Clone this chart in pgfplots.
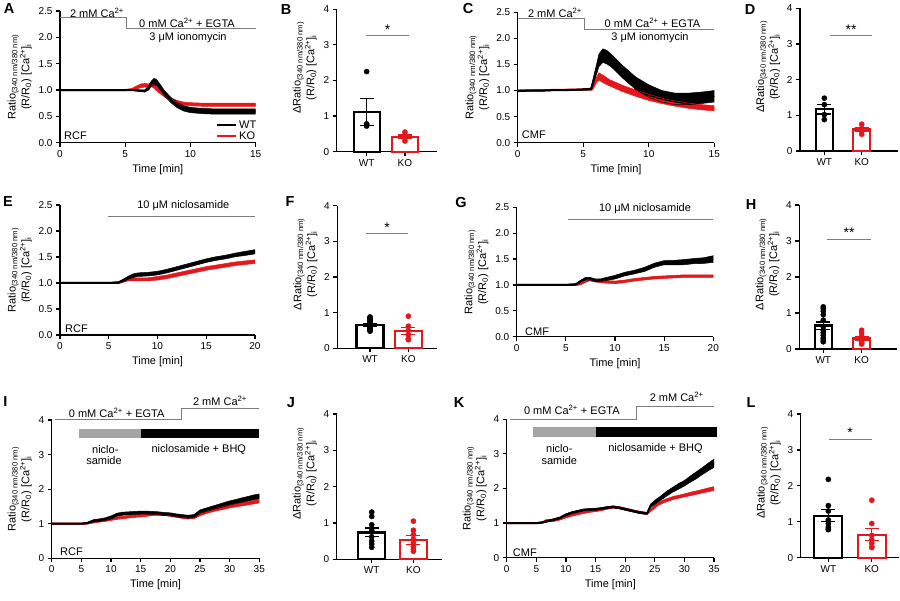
\documentclass[border=0pt]{standalone}
\usepackage{fontspec}
\setmainfont{Liberation Sans}
\usepackage{pgfplots}
\pgfplotsset{compat=1.18}
\usepgfplotslibrary{fillbetween}
\usepackage{pgfplotstable}

\definecolor{kored}{RGB}{228,24,28}
\definecolor{stimgray}{RGB}{125,125,125}
\definecolor{drugbar}{RGB}{165,165,165}

% ---------- traces: time [min], mean ratio, SEM ----------
\pgfplotstableread{
t m s
0 1.00 0.01
1 1.00 0.01
2 1.00 0.01
3 1.00 0.01
4 1.00 0.01
5 1.00 0.01
5.5 1.00 0.01
6.0 0.99 0.015
6.5 0.98 0.02
6.8 1.04 0.04
7.0 1.12 0.05
7.2 1.16 0.06
7.4 1.14 0.06
7.7 1.05 0.05
8.0 0.94 0.05
8.5 0.81 0.05
9.0 0.71 0.05
9.5 0.65 0.05
10 0.62 0.05
11 0.60 0.05
12 0.59 0.05
13 0.59 0.05
14 0.59 0.05
15 0.59 0.05
}\aWT
\pgfplotstableread{
t m s
0 1.00 0.01
5 1.00 0.01
5.5 1.01 0.015
5.8 1.04 0.03
6.2 1.08 0.035
6.5 1.09 0.035
6.8 1.08 0.035
7.0 1.10 0.035
7.2 1.07 0.035
7.5 1.00 0.035
8.0 0.90 0.03
8.5 0.82 0.03
9.0 0.77 0.03
9.5 0.74 0.03
10 0.73 0.03
11 0.72 0.03
12 0.72 0.03
13 0.72 0.03
14 0.72 0.03
15 0.72 0.03
}\aKO
\pgfplotstableread{
t m s
0 0.99 0.01
1 1.00 0.01
2 1.00 0.01
3 1.01 0.01
4 1.01 0.01
5 1.02 0.01
5.6 1.03 0.02
5.9 1.30 0.08
6.2 1.58 0.12
6.5 1.67 0.13
6.8 1.64 0.13
7.2 1.56 0.12
8 1.36 0.12
9 1.14 0.12
10 0.99 0.12
11 0.89 0.11
12 0.84 0.11
13 0.84 0.11
14 0.86 0.11
15 0.89 0.11
}\cWT
\pgfplotstableread{
t m s
0 1.00 0.01
5 1.02 0.01
5.7 1.03 0.02
6.0 1.20 0.05
6.2 1.27 0.07
6.6 1.21 0.07
7 1.15 0.06
8 1.04 0.06
9 0.95 0.06
10 0.87 0.06
11 0.80 0.05
12 0.75 0.05
13 0.71 0.05
14 0.68 0.05
15 0.66 0.05
}\cKO
\pgfplotstableread{
t m s
0 1.00 0.01
5 1.00 0.01
6 1.01 0.015
6.5 1.05 0.025
7 1.10 0.03
7.5 1.14 0.035
8 1.16 0.035
9 1.17 0.035
10 1.19 0.035
11 1.23 0.035
12 1.28 0.035
13 1.33 0.035
14 1.38 0.035
15 1.43 0.035
16 1.47 0.035
17 1.50 0.035
18 1.54 0.035
19 1.57 0.04
20 1.60 0.04
}\eWT
\pgfplotstableread{
t m s
0 1.00 0.01
5 1.00 0.01
6 1.00 0.015
6.5 1.04 0.025
7 1.07 0.03
8 1.07 0.03
9 1.07 0.03
10 1.09 0.035
11 1.12 0.035
12 1.16 0.035
13 1.20 0.035
14 1.24 0.035
15 1.28 0.035
16 1.31 0.035
17 1.34 0.035
18 1.37 0.035
19 1.39 0.035
20 1.41 0.035
}\eKO
\pgfplotstableread{
t m s
0 1.00 0.01
5 1.00 0.01
6 1.01 0.015
6.5 1.07 0.02
7 1.12 0.025
7.5 1.12 0.025
8 1.09 0.025
8.5 1.09 0.025
9 1.11 0.03
10 1.15 0.035
11 1.21 0.035
12 1.25 0.035
13 1.30 0.04
14 1.38 0.04
15 1.43 0.04
16 1.43 0.045
17 1.44 0.05
18 1.46 0.05
19 1.47 0.055
20 1.50 0.065
}\gWT
\pgfplotstableread{
t m s
0 1.00 0.01
6 1.00 0.01
6.5 1.02 0.015
7 1.07 0.02
7.4 1.10 0.02
8 1.08 0.025
9 1.06 0.025
10 1.05 0.025
11 1.07 0.025
12 1.10 0.025
13 1.12 0.025
14 1.14 0.025
15 1.15 0.025
16 1.16 0.025
17 1.17 0.025
18 1.17 0.025
19 1.17 0.025
20 1.17 0.025
}\gKO
\pgfplotstableread{
t m s
0 1.00 0.01
5 1.00 0.01
6 1.02 0.02
7 1.08 0.035
8 1.10 0.04
9 1.13 0.04
10 1.18 0.045
11 1.26 0.045
12 1.29 0.045
13 1.30 0.045
14 1.31 0.045
15 1.32 0.045
16 1.32 0.045
17 1.31 0.045
18 1.30 0.045
19 1.28 0.045
20 1.27 0.045
21 1.24 0.045
22 1.22 0.045
23 1.20 0.045
24 1.22 0.045
24.5 1.28 0.05
25 1.35 0.05
26 1.40 0.05
27 1.45 0.055
28 1.50 0.055
29 1.55 0.06
30 1.60 0.06
31 1.64 0.06
32 1.68 0.065
33 1.72 0.065
34 1.76 0.07
35 1.79 0.07
}\iWT
\pgfplotstableread{
t m s
0 1.00 0.01
5 1.00 0.01
6 1.01 0.02
7 1.05 0.03
8 1.08 0.035
9 1.10 0.035
10 1.13 0.035
11 1.16 0.035
12 1.18 0.035
13 1.20 0.035
14 1.22 0.035
15 1.23 0.035
16 1.25 0.035
17 1.27 0.035
18 1.28 0.035
19 1.27 0.035
20 1.25 0.035
21 1.22 0.035
22 1.19 0.035
23 1.17 0.035
24 1.18 0.035
25 1.27 0.04
26 1.33 0.04
27 1.38 0.04
28 1.42 0.04
29 1.46 0.045
30 1.50 0.045
31 1.53 0.045
32 1.56 0.045
33 1.59 0.05
34 1.62 0.05
35 1.65 0.05
}\iKO
\pgfplotstableread{
t m s
0 1.00 0.01
5 1.00 0.01
6 1.02 0.02
7 1.06 0.025
8 1.10 0.03
9 1.15 0.03
10 1.24 0.03
11 1.30 0.03
12 1.34 0.03
13 1.38 0.03
14 1.39 0.03
15 1.40 0.03
16 1.42 0.03
17 1.45 0.03
18 1.47 0.03
19 1.44 0.03
20 1.40 0.03
21 1.36 0.03
22 1.32 0.03
23 1.29 0.03
23.7 1.28 0.03
24.3 1.50 0.05
25 1.60 0.06
26 1.72 0.06
27 1.85 0.07
28 1.96 0.07
29 2.06 0.08
30 2.15 0.08
31 2.27 0.09
32 2.38 0.10
33 2.50 0.10
34 2.62 0.11
35 2.73 0.12
}\kWT
\pgfplotstableread{
t m s
0 1.00 0.01
5 1.00 0.01
6 1.01 0.02
6.5 1.06 0.03
7 1.08 0.03
8 1.08 0.03
9 1.12 0.03
10 1.18 0.03
11 1.23 0.03
12 1.27 0.03
13 1.31 0.03
14 1.34 0.03
15 1.36 0.03
16 1.39 0.03
17 1.43 0.03
18 1.46 0.03
19 1.45 0.03
20 1.41 0.03
21 1.37 0.03
22 1.33 0.03
23 1.30 0.03
23.7 1.28 0.03
24.5 1.40 0.04
25.5 1.55 0.045
26.5 1.63 0.045
28 1.72 0.045
29 1.76 0.045
30 1.80 0.045
31 1.84 0.05
32 1.88 0.05
33 1.92 0.05
34 1.96 0.055
35 2.00 0.055
}\kKO

% mean trace with a filled SEM band
\newcommand{\meantrace}[3]{%
  \addplot[draw=#1, line width=0.5pt, name path=#3up]
    table[x=t, y expr=\thisrow{m}+\thisrow{s}] {#2};
  \addplot[draw=#1, line width=0.5pt, name path=#3lo]
    table[x=t, y expr=\thisrow{m}-\thisrow{s}] {#2};
  \addplot[fill=#1, draw=none] fill between[of=#3up and #3lo];
  \addplot[draw=#1, line width=2pt] table[x=t, y=m] {#2};
}

\pgfplotsset{
  panel/.style={
    scale only axis, axis lines=left,
    axis line style={-, line width=1.2pt},
    tick style={black, line width=1.2pt},
    major tick length=4pt, tick align=outside,
    enlargelimits=false, clip=false,
    /pgf/number format/assume math mode=true,
    tick label style={font=\fontsize{10}{12}\selectfont},
    label style={font=\fontsize{11}{12.5}\selectfont},
    ylabel style={align=center},
  },
  trace/.style={
    panel, xmin=0, ymin=0, ymax=2.5,
    ytick={0,0.5,1,1.5,2,2.5},
    yticklabel style={/pgf/number format/.cd, fixed, fixed zerofill, precision=1},
    xlabel={Time [min]},
    ylabel={Ratio\textsubscript{(340 nm/380 nm)}\\(R/R\textsubscript{0}) [Ca\textsuperscript{2+}]\textsubscript{i}},
  },
  trace4/.style={trace, ymax=4, ytick={0,1,2,3,4},
    yticklabel style={/pgf/number format/.cd, fixed, precision=0}},
  dbar/.style={
    panel, ymin=0, ymax=4, ytick={0,1,2,3,4},
    xtick={1,2}, xticklabels={WT,KO},
    ylabel={ΔRatio\textsubscript{(340 nm/380 nm)}\\(R/R\textsubscript{0}) [Ca\textsuperscript{2+}]\textsubscript{i}},
    ylabel style={at={(ticklabel cs:0.59)}},
  },
  wtbar/.style={ybar, bar shift=0pt, bar width=#1, draw=black, fill=white,
    line width=2.2pt,
    error bars/.cd, y dir=both, y explicit,
    error bar style={line width=1.3pt, black},
    error mark options={rotate=90, mark size=7pt, line width=1.3pt, black}},
  kobar/.style={ybar, bar shift=0pt, bar width=#1, draw=kored, fill=white,
    line width=2.2pt,
    error bars/.cd, y dir=both, y explicit,
    error bar style={line width=1.3pt, kored},
    error mark options={rotate=90, mark size=7pt, line width=1.3pt, kored}},
  wtdots/.style={only marks, mark=*, mark size=2.6pt, black},
  kodots/.style={only marks, mark=*, mark size=2.6pt, kored},
}

\begin{document}
\begin{tikzpicture}
\path (0,0) rectangle (900pt,601pt);

% ---------------- A ----------------
\begin{axis}[trace, at={(60pt,458.3pt)}, anchor=south west,
  width=195.7pt, height=131.7pt, xmax=15, xtick={0,5,10,15}]
  \meantrace{kored}{\aKO}{aK}
  \meantrace{black}{\aWT}{aW}
\end{axis}

% ---------------- B ----------------
\begin{axis}[dbar, at={(336.7pt,449.3pt)}, anchor=south west,
  width=100pt, height=142.4pt, xmin=0.217, xmax=2.83]
  \addplot[wtbar=26pt] coordinates {(1,1.12) +- (0,0.38)};
  \addplot[kobar=26pt] coordinates {(2,0.42) +- (0,0.05)};
  \addplot[wtdots] coordinates {(1,2.25) (1,0.78) (1,0.75) (1,0.72)};
  \addplot[kodots] coordinates {(2,0.55) (2,0.47) (2,0.38) (2,0.30)};
\end{axis}

% ---------------- C ----------------
\begin{axis}[trace, at={(517.7pt,458.3pt)}, anchor=south west,
  width=196.6pt, height=130.4pt, xmax=15, xtick={0,5,10,15}]
  \meantrace{kored}{\cKO}{cK}
  \meantrace{black}{\cWT}{cW}
\end{axis}

% ---------------- D ----------------
\begin{axis}[dbar, at={(800pt,450pt)}, anchor=south west,
  width=98pt, height=142.7pt, xmin=0.35, xmax=2.97]
  \addplot[wtbar=17pt] coordinates {(1,1.17) +- (0,0.13)};
  \addplot[kobar=17pt] coordinates {(2,0.60) +- (0,0.06)};
  \addplot[wtdots] coordinates {(1,1.48) (1,1.30) (1,1.02) (1,0.88)};
  \addplot[kodots] coordinates {(2,0.75) (2,0.63) (2,0.55) (2,0.47)};
\end{axis}

% ---------------- E ----------------
\begin{axis}[trace, at={(60pt,266pt)}, anchor=south west,
  width=195pt, height=130pt, xmax=20, xtick={0,5,10,15,20}]
  \meantrace{kored}{\eKO}{eK}
  \meantrace{black}{\eWT}{eW}
\end{axis}

% ---------------- F ----------------
\begin{axis}[dbar, at={(337.3pt,252.7pt)}, anchor=south west,
  width=99.4pt, height=142.6pt, xmin=0.146, xmax=2.74]
  \addplot[wtbar=27pt] coordinates {(1,0.66) +- (0,0.04)};
  \addplot[kobar=27pt] coordinates {(2,0.48) +- (0,0.10)};
  \addplot[wtdots] coordinates {(1,0.88) (1,0.85) (1,0.82) (1,0.78) (1,0.74)
    (1,0.70) (1,0.66) (1,0.62) (1,0.58) (1,0.55) (1,0.52) (1,0.50) (1,0.48)};
  \addplot[kodots] coordinates {(2,0.90) (2,0.62) (2,0.50) (2,0.38) (2,0.26) (2,0.24)};
\end{axis}

% ---------------- G ----------------
\begin{axis}[trace, at={(516.7pt,264.3pt)}, anchor=south west,
  width=196.6pt, height=129.4pt, xmax=20, xtick={0,5,10,15,20}]
  \meantrace{kored}{\gKO}{gK}
  \meantrace{black}{\gWT}{gW}
\end{axis}

% ---------------- H ----------------
\begin{axis}[dbar, at={(799.3pt,252pt)}, anchor=south west,
  width=98pt, height=144pt, xmin=0.375, xmax=2.93]
  \addplot[wtbar=17pt] coordinates {(1,0.65) +- (0,0.10)};
  \addplot[kobar=17pt] coordinates {(2,0.29) +- (0,0.05)};
  \addplot[wtdots] coordinates {(1,1.17) (1,1.12) (1,1.05) (1,0.95) (1,0.80)
    (1,0.62) (1,0.52) (1,0.45) (1,0.38) (1,0.30) (1,0.25) (1,0.20)};
  \addplot[kodots] coordinates {(2,0.52) (2,0.45) (2,0.36) (2,0.28) (2,0.22)
    (2,0.18) (2,0.15) (2,0.14)};
\end{axis}

% ---------------- I ----------------
\begin{axis}[trace4, at={(51.7pt,42.7pt)}, anchor=south west,
  width=207.6pt, height=138.3pt, xmax=35, xtick={0,5,...,35}]
  \meantrace{kored}{\iKO}{iK}
  \meantrace{black}{\iWT}{iW}
\end{axis}

% ---------------- J ----------------
\begin{axis}[dbar, at={(336.7pt,41.7pt)}, anchor=south west,
  width=105pt, height=145.3pt, xmin=0.159, xmax=2.68]
  \addplot[wtbar=27pt] coordinates {(1,0.74) +- (0,0.12)};
  \addplot[kobar=27pt] coordinates {(2,0.53) +- (0,0.12)};
  \addplot[wtdots] coordinates {(1,1.30) (1,1.18) (1,0.95) (1,0.80) (1,0.62)
    (1,0.50) (1,0.42) (1,0.33)};
  \addplot[kodots] coordinates {(2,1.05) (2,0.80) (2,0.68) (2,0.55) (2,0.45)
    (2,0.35) (2,0.28) (2,0.22)};
\end{axis}

% ---------------- K ----------------
\begin{axis}[trace4, at={(506.7pt,43.3pt)}, anchor=south west,
  width=207.3pt, height=138.4pt, xmax=35, xtick={0,5,...,35}]
  \meantrace{kored}{\kKO}{kK}
  \meantrace{black}{\kWT}{kW}
\end{axis}

% ---------------- L ----------------
\begin{axis}[dbar, at={(800.7pt,43.3pt)}, anchor=south west,
  width=98pt, height=143.7pt, xmin=0.364, xmax=2.62]
  \addplot[wtbar=28pt] coordinates {(1,1.17) +- (0,0.17)};
  \addplot[kobar=28pt] coordinates {(2,0.64) +- (0,0.17)};
  \addplot[wtdots] coordinates {(1,2.18) (1,1.45) (1,1.30) (1,1.05) (1,0.95)
    (1,0.85) (1,0.80) (1,0.78)};
  \addplot[kodots] coordinates {(2,1.60) (2,0.95) (2,0.62) (2,0.50) (2,0.40)
    (2,0.30) (2,0.28)};
\end{axis}

% ---------- solution bars, legend, significance, panel letters ----------
\begin{scope}[x=1pt, y=-1pt, shift={(0pt,601pt)},
  every node/.style={font=\fontsize{11}{12.5}\selectfont, inner sep=0pt}]
  % A
  \draw[stimgray, line width=1pt] (60,18) -- (126,18) -- (126,29) -- (255.7,29);
  \node at (97,12.5) {2 mM Ca\textsuperscript{2+}};
  \node at (187,23) {0 mM Ca\textsuperscript{2+} + EGTA};
  \node at (188,37.5) {3 μM ionomycin};
  \node[anchor=west] at (64,136) {RCF};
  \draw[black, line width=2pt] (217,125) -- (236,125);
  \draw[kored, line width=2pt] (217,136) -- (236,136);
  \node[anchor=west] at (239,125) {WT};
  \node[anchor=west] at (239,136) {KO};
  % B
  \draw[stimgray, line width=1pt] (366,35.7) -- (409,35.7);
  \node[font=\fontsize{14}{14}\selectfont] at (387.5,30) {*};
  % C
  \draw[stimgray, line width=1pt] (517.7,19) -- (584.3,19) -- (584.3,29.3) -- (714.3,29.3);
  \node at (555,12.5) {2 mM Ca\textsuperscript{2+}};
  \node at (652.5,22.5) {0 mM Ca\textsuperscript{2+} + EGTA};
  \node at (650,37.5) {3 μM ionomycin};
  \node[anchor=west] at (521.7,135) {CMF};
  % D
  \draw[stimgray, line width=1pt] (830,36) -- (871.7,36);
  \node[font=\fontsize{14}{14}\selectfont] at (851,30) {**};
  % E
  \draw[stimgray, line width=1pt] (108.3,216.5) -- (255,216.5);
  \node at (183.3,206) {10 μM niclosamide};
  \node[anchor=west] at (65,328.3) {RCF};
  % F
  \draw[stimgray, line width=1pt] (366,234) -- (408.3,234);
  \node[font=\fontsize{14}{14}\selectfont] at (387,228) {*};
  % G
  \draw[stimgray, line width=1pt] (568.3,219.3) -- (713.3,219.3);
  \node at (645,208.3) {10 μM niclosamide};
  \node[anchor=west] at (525,331.7) {CMF};
  % H
  \draw[stimgray, line width=1pt] (827.3,240) -- (871,240);
  \node[font=\fontsize{14}{14}\selectfont] at (849,233) {**};
  % I
  \draw[stimgray, line width=1pt] (55,420) -- (181,420) -- (181,408.3) -- (259.3,408.3);
  \node at (116.7,413) {0 mM Ca\textsuperscript{2+} + EGTA};
  \node at (220,401) {2 mM Ca\textsuperscript{2+}};
  \fill[drugbar] (79,429) rectangle (141,437.7);
  \fill[black] (141,429) rectangle (259.3,437.7);
  \node at (105.3,449.3) {niclo-};
  \node at (104,460.7) {samide};
  \node at (198.8,449.3) {niclosamide + BHQ};
  \node[anchor=west] at (60,551.7) {RCF};
  % K
  \draw[stimgray, line width=1pt] (510,419.3) -- (636.7,419.3) -- (636.7,406.7) -- (714,406.7);
  \node at (571.8,410) {0 mM Ca\textsuperscript{2+} + EGTA};
  \node at (676.7,397.3) {2 mM Ca\textsuperscript{2+}};
  \fill[drugbar] (533.3,427.3) rectangle (596,436.7);
  \fill[black] (596,427.3) rectangle (716.7,436.7);
  \node at (559.3,448.3) {niclo-};
  \node at (559.3,460.7) {samide};
  \node at (655.5,448.3) {niclosamide + BHQ};
  \node[anchor=west] at (512.7,552.7) {CMF};
  % L
  \draw[stimgray, line width=1pt] (829,439.3) -- (871.7,439.3);
  \node[font=\fontsize{14}{14}\selectfont] at (850,433) {*};
  % panel letters
  \begin{scope}[every node/.style={font=\fontsize{14.5}{14.5}\selectfont\bfseries, inner sep=0pt}]
    \node at (9,9) {A};
    \node at (286,10) {B};
    \node at (468,9) {C};
    \node at (750,10) {D};
    \node at (8,202) {E};
    \node at (290,202) {F};
    \node at (461,203) {G};
    \node at (751,205) {H};
    \node at (5.5,402) {I};
    \node at (291,403) {J};
    \node at (459,402.5) {K};
    \node at (751,403) {L};
  \end{scope}
\end{scope}
\end{tikzpicture}
\end{document}
